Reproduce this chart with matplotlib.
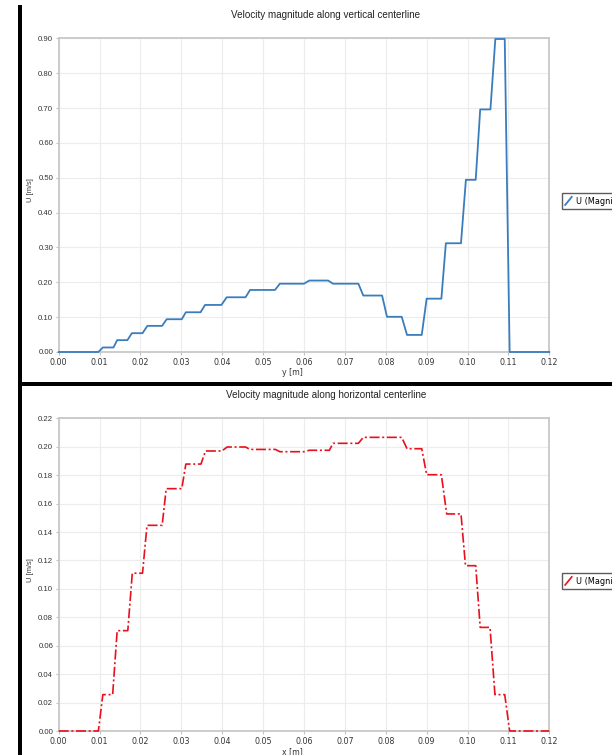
import matplotlib
matplotlib.use("Agg")
import matplotlib.pyplot as plt
from matplotlib.patches import Rectangle
from matplotlib.legend_handler import HandlerLine2D
from matplotlib.lines import Line2D
import numpy as np

# Velocity along vertical centerline (y [m], U [m/s])
y_vert = [0.0, 0.0097, 0.0108, 0.0134, 0.0143, 0.0168, 0.0179, 0.0205, 0.0217, 0.0253,
          0.0264, 0.0301, 0.0311, 0.0347, 0.0358, 0.0398, 0.0411, 0.0457, 0.0468, 0.0529,
          0.0541, 0.0600, 0.0613, 0.0659, 0.0671, 0.0733, 0.0745, 0.0791, 0.0803, 0.0839,
          0.0852, 0.0888, 0.0900, 0.0936, 0.0947, 0.0984, 0.0996, 0.1020, 0.1031, 0.1056,
          0.1068, 0.1091, 0.1103, 0.12]
u_vert = [0, 0, 0.013, 0.013, 0.034, 0.034, 0.054, 0.054, 0.075, 0.075,
          0.094, 0.094, 0.114, 0.114, 0.135, 0.135, 0.157, 0.157, 0.178, 0.178,
          0.196, 0.196, 0.205, 0.205, 0.196, 0.196, 0.162, 0.162, 0.101, 0.101,
          0.049, 0.049, 0.153, 0.153, 0.312, 0.312, 0.494, 0.494, 0.696, 0.696,
          0.898, 0.898, 0, 0]

# Velocity along horizontal centerline (x [m], U [m/s])
x_horiz = [0.0, 0.0097, 0.0108, 0.0132, 0.0143, 0.0169, 0.0180, 0.0205, 0.0216, 0.0253,
           0.0263, 0.0301, 0.0311, 0.0348, 0.0359, 0.0399, 0.0412, 0.0457, 0.0468, 0.0530,
           0.0541, 0.0600, 0.0613, 0.0662, 0.0671, 0.0733, 0.0745, 0.0839, 0.0852, 0.0888,
           0.0900, 0.0936, 0.0949, 0.0984, 0.0995, 0.1020, 0.1031, 0.1055, 0.1067, 0.1091,
           0.1103, 0.12]
u_horiz = [0, 0, 0.0256, 0.0256, 0.0706, 0.0706, 0.111, 0.111, 0.1447, 0.1447,
           0.1705, 0.1705, 0.1878, 0.1878, 0.197, 0.197, 0.1998, 0.1998, 0.1981, 0.1981,
           0.1965, 0.1965, 0.1975, 0.1975, 0.2024, 0.2024, 0.2066, 0.2066, 0.1986, 0.1986,
           0.1803, 0.1803, 0.1527, 0.1527, 0.1163, 0.1163, 0.0729, 0.0729, 0.0256, 0.0256,
           0, 0]

x_ticks = np.arange(0, 0.1201, 0.01)
vert_yticks = np.arange(0, 0.901, 0.1)
horiz_yticks = np.arange(0, 0.2201, 0.02)

W, H = 612, 755
fig = plt.figure(figsize=(W / 100, H / 100), dpi=100)
fig.patch.set_facecolor("white")


# legend marker drawn as a short diagonal stroke
class DiagHandler(HandlerLine2D):
    def create_artists(self, legend, orig_handle, xdescent, ydescent, width, height, fontsize, trans):
        ln = Line2D([0, width], [-0.25 * height, 1.15 * height])
        self.update_prop(ln, orig_handle, legend)
        ln.set_linestyle("-")
        ln.set_transform(trans)
        return [ln]


def px_axes(left, top, right, bottom):
    return fig.add_axes([left / W, 1 - bottom / H, (right - left) / W, (bottom - top) / H])


def style(ax, yticks, ymax):
    ax.set_xlim(0, 0.12)
    ax.set_ylim(0, ymax)
    ax.set_xticks(x_ticks)
    ax.set_yticks(yticks)
    ax.set_xticklabels(["%.2f" % v for v in x_ticks], fontsize=5.7, family="DejaVu Sans", color="#333333")
    ax.set_yticklabels(["%.2f" % v for v in yticks], fontsize=5.6, family="Liberation Sans", color="#333333")
    ax.tick_params(length=2.5, width=0.8, color="#c0c0c0", pad=1.5)
    ax.grid(True, color="#ececec", lw=0.8)
    ax.set_axisbelow(True)
    for s in ax.spines.values():
        s.set_color("#c8c8c8")
        s.set_linewidth(1.3)


def add_legend(ax, yc):
    ax.legend(loc="center left", bbox_to_anchor=(561.5 / W, 1 - yc / H), bbox_transform=fig.transFigure,
              fontsize=5.9, frameon=True, fancybox=False, edgecolor="#333333", handlelength=0.8,
              borderpad=0.45, handletextpad=0.5, borderaxespad=0,
              handler_map={Line2D: DiagHandler()})


# top chart
ax1 = px_axes(58.7, 38.3, 549.3, 352)
ax1.plot(y_vert, u_vert, color="#3a7dbd", lw=1.3, label="U (Magnitude)", clip_on=False, zorder=5)
style(ax1, vert_yticks, 0.9)
fig.text(326 / W, 1 - 15 / H, "Velocity magnitude along vertical centerline",
         ha="center", va="center", fontsize=7.1, family="Liberation Sans", color="#222222")
fig.text(292.5 / W, 1 - 372.5 / H, "y [m]", ha="center", va="center",
         fontsize=5.7, family="DejaVu Sans", color="#333333")
fig.text(31 / W, 1 - 190 / H, "U [m/s]", ha="center", va="center", rotation=90,
         fontsize=5.4, family="Liberation Sans", color="#333333")
add_legend(ax1, 201)

# bottom chart
ax2 = px_axes(58.7, 418.3, 549.3, 731)
ax2.plot(x_horiz, u_horiz, color="#e8101c", lw=1.2, ls=(0, (6, 1.6, 1.2, 1.6)),
         label="U (Magnitude)", clip_on=False, zorder=5)
style(ax2, horiz_yticks, 0.22)
fig.text(326 / W, 1 - 395.5 / H, "Velocity magnitude along horizontal centerline",
         ha="center", va="center", fontsize=7.1, family="Liberation Sans", color="#222222")
fig.text(292.5 / W, 1 - 751.5 / H, "x [m]", ha="center", va="center",
         fontsize=5.7, family="DejaVu Sans", color="#333333")
fig.text(31 / W, 1 - 570 / H, "U [m/s]", ha="center", va="center", rotation=90,
         fontsize=5.4, family="Liberation Sans", color="#333333")
add_legend(ax2, 581)

# black frame bars of the screenshot
fig.add_artist(Rectangle((18 / W, 0), 4 / W, 1 - 5 / H, transform=fig.transFigure,
                         color="black", lw=0))
fig.add_artist(Rectangle((18 / W, 1 - 385.5 / H), 1 - 18 / W, 4 / H, transform=fig.transFigure,
                         color="black", lw=0))

fig.savefig("out.png", dpi=100)
